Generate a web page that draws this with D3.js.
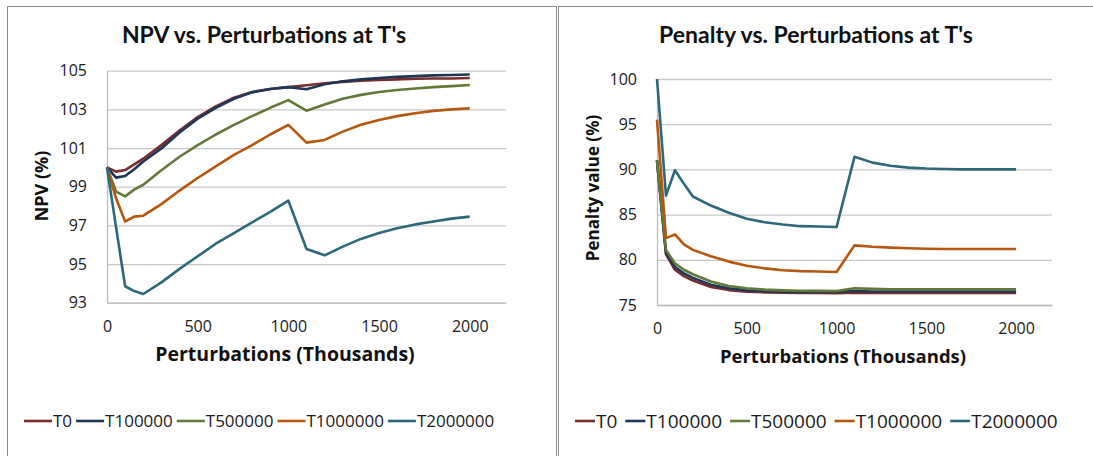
<!DOCTYPE html>
<html>
<head>
<meta charset="utf-8">
<script src="https://cdn.jsdelivr.net/npm/d3@7"></script>
<style>
  html, body { margin: 0; padding: 0; background: #fff; }
  svg { display: block; }
</style>
</head>
<body>
<svg id="chart" width="1093" height="456"></svg>
<script>
// Perturbations (thousands) at which both experiments were sampled
const perturbations = [0, 50, 100, 150, 200, 300, 400, 500, 600, 700, 800, 900, 1000,
  1100, 1200, 1300, 1400, 1500, 1600, 1700, 1800, 1900, 2000];

const seriesNames = ["T0", "T100000", "T500000", "T1000000", "T2000000"];
const seriesColors = ["#7b2d2d", "#1f3757", "#62793a", "#b5570f", "#2d6878"];

// NPV (%) for each temperature schedule
const npvT0 = [100, 99.78, 99.86, 100.15, 100.45, 101.15, 101.9, 102.6, 103.15, 103.6, 103.9, 104.05, 104.15,
  104.25, 104.35, 104.42, 104.48, 104.52, 104.55, 104.58, 104.6, 104.6, 104.62];
const npvT100000 = [100, 99.47, 99.55, 99.9, 100.3, 100.98, 101.8, 102.52, 103.08, 103.55, 103.88, 104.05, 104.15,
  104.04, 104.3, 104.45, 104.55, 104.62, 104.68, 104.72, 104.76, 104.78, 104.8];
const npvT500000 = [100, 98.75, 98.5, 98.85, 99.1, 99.85, 100.55, 101.15, 101.7, 102.2, 102.65, 103.08, 103.48,
  102.93, 103.25, 103.55, 103.75, 103.9, 104.0, 104.08, 104.15, 104.2, 104.26];
const npvT1000000 = [100, 98.4, 97.2, 97.45, 97.5, 98.1, 98.8, 99.45, 100.05, 100.65, 101.15, 101.7, 102.2,
  101.28, 101.42, 101.85, 102.2, 102.45, 102.65, 102.8, 102.92, 103.0, 103.05];
const npvT2000000 = [100, 96.9, 93.85, 93.6, 93.45, 94.05, 94.75, 95.4, 96.05, 96.6, 97.15, 97.7, 98.28,
  95.78, 95.45, 95.9, 96.3, 96.6, 96.85, 97.05, 97.2, 97.35, 97.45];

// Penalty value (%) for each temperature schedule
const penT0 = [91, 80.6, 78.9, 78.2, 77.7, 77.0, 76.65, 76.48, 76.4, 76.35, 76.33, 76.32, 76.3,
  76.35, 76.33, 76.32, 76.32, 76.32, 76.32, 76.32, 76.32, 76.32, 76.32];
const penT100000 = [91, 80.8, 79.2, 78.5, 78.0, 77.25, 76.85, 76.62, 76.52, 76.47, 76.45, 76.45, 76.45,
  76.55, 76.5, 76.5, 76.5, 76.5, 76.5, 76.5, 76.5, 76.5, 76.5];
const penT500000 = [91, 81.1, 79.6, 78.9, 78.4, 77.6, 77.1, 76.85, 76.7, 76.62, 76.58, 76.56, 76.55,
  76.85, 76.78, 76.75, 76.75, 76.75, 76.75, 76.75, 76.75, 76.75, 76.75];
const penT1000000 = [95.5, 82.4, 82.8, 81.7, 81.1, 80.4, 79.8, 79.35, 79.05, 78.85, 78.75, 78.7, 78.65,
  81.6, 81.45, 81.35, 81.28, 81.22, 81.2, 81.2, 81.2, 81.2, 81.2];
const penT2000000 = [100, 87.1, 89.9, 88.4, 87.0, 86.0, 85.2, 84.55, 84.15, 83.9, 83.72, 83.68, 83.62,
  91.4, 90.75, 90.4, 90.2, 90.1, 90.05, 90.0, 90.0, 90.0, 90.0];

const xTicks = [0, 500, 1000, 1500, 2000];
const npvTicks = [93, 95, 97, 99, 101, 103, 105];
const penTicks = [75, 80, 85, 90, 95, 100];

const svg = d3.select("#chart");
const FONT = "'Open Sans', sans-serif";
const TITLE_FONT = "Lato, 'Open Sans', sans-serif";

function drawChart(cfg) {
  const g = svg.append("g");

  // chart frame
  g.append("rect")
    .attr("x", cfg.frame[0] + 0.5).attr("y", 6.5)
    .attr("width", cfg.frame[1] - cfg.frame[0]).attr("height", 470)
    .attr("fill", "#fff").attr("stroke", "#8a8a8a").attr("stroke-width", 1);

  const x = d3.scaleLinear().domain([0, 2200]).range([cfg.plot.left, cfg.plot.right]);
  const y = d3.scaleLinear().domain(cfg.yDomain).range([cfg.plot.bottom, cfg.plot.top]);

  // horizontal gridlines
  g.append("g")
    .attr("transform", `translate(${cfg.plot.left},0)`)
    .call(d3.axisLeft(y).tickValues(cfg.yTicks).tickSize(-(cfg.plot.right - cfg.plot.left)).tickFormat(""))
    .call(a => a.select(".domain").remove())
    .call(a => a.selectAll("line").attr("stroke", "#c9c9c9").attr("stroke-width", 1.3));

  // y axis
  const ya = g.append("g")
    .attr("transform", `translate(${cfg.plot.left},0)`)
    .call(d3.axisLeft(y).tickValues(cfg.yTicks).tickSize(0).tickPadding(20).tickFormat(d3.format("d")));
  ya.select(".domain").attr("stroke", "#bdbdbd").attr("stroke-width", 1.3);
  ya.selectAll("text").attr("font-family", FONT).attr("font-size", 16).attr("fill", "#1a1a1a");

  // x axis
  const xa = g.append("g")
    .attr("transform", `translate(0,${cfg.plot.bottom})`)
    .call(d3.axisBottom(x).tickValues(xTicks).tickSize(0).tickPadding(18).tickFormat(d3.format("d")));
  xa.select(".domain").attr("stroke", "#bdbdbd").attr("stroke-width", 1.3);
  xa.selectAll("text").attr("font-family", FONT).attr("font-size", 16).attr("fill", "#1a1a1a");

  // series lines
  const line = d3.line()
    .x((d, i) => x(perturbations[i]))
    .y(d => y(d));
  cfg.series.forEach((vals, k) => {
    g.append("path")
      .datum(vals)
      .attr("fill", "none")
      .attr("stroke", seriesColors[k])
      .attr("stroke-width", 2.6)
      .attr("stroke-linejoin", "round")
      .attr("d", line);
  });

  // titles
  g.append("text")
    .attr("x", cfg.titleX).attr("y", 43)
    .attr("text-anchor", "middle")
    .attr("font-family", TITLE_FONT).attr("font-weight", 700).attr("font-size", 23)
    .attr("fill", "#111")
    .text(cfg.title);

  g.append("text")
    .attr("transform", `translate(${cfg.yTitleX},${cfg.yTitleY}) rotate(-90)`)
    .attr("text-anchor", "middle")
    .attr("dy", "0.35em")
    .attr("font-family", FONT).attr("font-weight", 700).attr("font-size", cfg.yTitleSize)
    .attr("fill", "#111")
    .text(cfg.yTitle);

  g.append("text")
    .attr("x", cfg.xTitleX).attr("y", cfg.xTitleY)
    .attr("text-anchor", "middle")
    .attr("font-family", FONT).attr("font-weight", 700).attr("font-size", cfg.xTitleSize)
    .attr("fill", "#111")
    .text("Perturbations (Thousands)");

  // legend
  let lx = cfg.legend.x;
  const ly = 421;
  seriesNames.forEach((name, k) => {
    g.append("line")
      .attr("x1", lx).attr("x2", lx + cfg.legend.sym)
      .attr("y1", ly).attr("y2", ly)
      .attr("stroke", seriesColors[k]).attr("stroke-width", 2.6);
    lx += cfg.legend.sym + 1;
    const t = g.append("text")
      .attr("x", lx).attr("y", ly)
      .attr("dy", "0.35em")
      .attr("font-family", FONT).attr("font-size", cfg.legend.size)
      .attr("fill", "#1a1a1a")
      .text(name);
    lx += t.node().getComputedTextLength() + cfg.legend.gap;
  });
}

drawChart({
  frame: [7, 556],
  plot: { left: 107, right: 506, top: 70.7, bottom: 302.7 },
  yDomain: [93, 105],
  yTicks: npvTicks,
  series: [npvT0, npvT100000, npvT500000, npvT1000000, npvT2000000],
  title: "NPV vs. Perturbations at T's",
  titleX: 264,
  yTitle: "NPV  (%)",
  yTitleSize: 18,
  yTitleX: 42, yTitleY: 186,
  xTitleX: 285, xTitleY: 361, xTitleSize: 19.5,
  legend: { x: 24, sym: 28, gap: 4, size: 17 }
});

drawChart({
  frame: [558, 1100],
  plot: { left: 657, right: 1052, top: 79, bottom: 305 },
  yDomain: [75, 100],
  yTicks: penTicks,
  series: [penT0, penT100000, penT500000, penT1000000, penT2000000],
  title: "Penalty vs. Perturbations at T's",
  titleX: 816,
  yTitle: "Penalty value (%)",
  yTitleSize: 17,
  yTitleX: 593, yTitleY: 188,
  xTitleX: 843, xTitleY: 363, xTitleSize: 18.5,
  legend: { x: 575, sym: 20, gap: 8, size: 19 }
});
</script>
</body>
</html>
